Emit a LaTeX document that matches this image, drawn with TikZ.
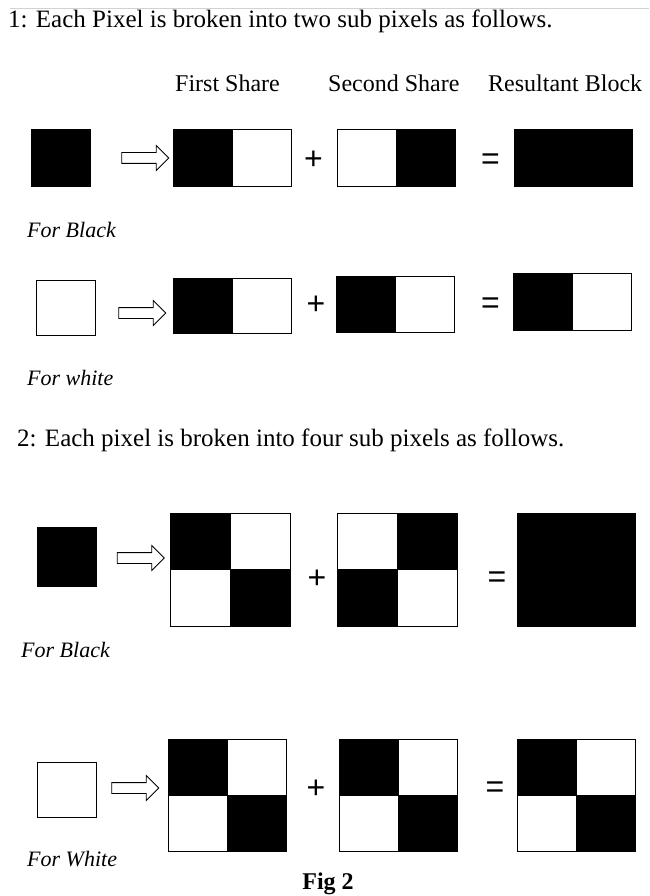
\documentclass[tikz,border=0pt]{standalone}
\usepackage{fontspec}
\setmainfont{Liberation Serif}
\newfontfamily\symfont{Liberation Sans}
\usetikzlibrary{shapes.arrows}

\begin{document}
\begin{tikzpicture}[x=1pt,y=-1pt,every node/.style={inner sep=0pt},
  bcell/.style={draw,line width=1pt,fill=black,minimum width=59pt,minimum height=57pt},
  wcell/.style={draw,line width=1pt,fill=white,minimum width=59pt,minimum height=57pt},
  maps/.style={single arrow,draw,line width=0.8pt,fill=white,inner sep=5pt,minimum height=47pt,single arrow head extend=7pt},
  op/.style={font=\symfont\fontsize{32}{34}\selectfont},
  txt/.style={anchor=base west,font=\fontsize{24}{28}\selectfont},
  lbl/.style={anchor=base west,font=\itshape\fontsize{22}{26}\selectfont}]
\useasboundingbox (0,0) rectangle (649,896);
\fill[white] (0,0) rectangle (649,896);
\draw[gray!35] (10,8) -- (649,8);
% headings
\node[txt,font=\fontsize{25}{28}\selectfont] (head1) at (8,28) {1: Each Pixel is broken into two sub pixels as follows.};
\node[txt] (hfirst) at (175,92) {First Share};
\node[txt] (hsecond) at (328,92) {Second Share};
\node[txt] (hresult) at (488,92) {Resultant Block};
% two sub pixels, black
\node[bcell] (src1) at (60.5,158.5) {};
\node[maps] (arr1) at (142.5,158) {};
\node[bcell] (a1l) at (202.5,158.5) {}; \node[wcell] (a1r) at (261.5,158.5) {};
\node[op] (plus1) at (313.5,160) {+};
\node[wcell] (b1l) at (366.5,158.5) {}; \node[bcell] (b1r) at (425.5,158.5) {};
\node[op] (eq1) at (490.5,162) {=};
\node[bcell,minimum width=118pt] (res1) at (573,158.5) {};
\node[lbl] (for1) at (27,237) {For Black};
% two sub pixels, white
\node[wcell,minimum height=55pt] (src2) at (65.5,307.5) {};
\node[maps] (arr2) at (139.5,313) {};
\node[bcell,minimum height=55pt] (a2l) at (202.5,305.5) {}; \node[wcell,minimum height=55pt] (a2r) at (261.5,305.5) {};
\node[op] (plus2) at (316,305) {+};
\node[bcell,minimum height=56pt] (b2l) at (365.5,304) {}; \node[wcell,minimum height=56pt] (b2r) at (424.5,304) {};
\node[op] (eq2) at (490.5,306) {=};
\node[bcell] (r2l) at (542.5,301.5) {}; \node[wcell] (r2r) at (601.5,301.5) {};
\node[lbl] (for2) at (27,385) {For white};
% four sub pixels
\node[txt,font=\fontsize{25}{28}\selectfont] (head2) at (17,446) {2: Each pixel is broken into four sub pixels as follows.};
% four sub pixels, black
\node[bcell,minimum height=59pt] (src3) at (66.5,556.5) {};
\node[maps] (arr3) at (138,558) {};
\node[wcell,minimum width=60pt,minimum height=56.5pt] (a3tr) at (260,541.25) {};
\node[wcell,minimum width=60pt,minimum height=56.5pt] (a3bl) at (200,597.75) {};
\node[bcell,minimum width=60pt,minimum height=56.5pt] (a3tl) at (200,541.25) {};
\node[bcell,minimum width=60pt,minimum height=56.5pt] (a3br) at (260,597.75) {};
\node[op] (plus3) at (317,579) {+};
\node[wcell,minimum width=60pt,minimum height=56.5pt] (b3tl) at (367,541.25) {};
\node[wcell,minimum width=60pt,minimum height=56.5pt] (b3br) at (427,597.75) {};
\node[bcell,minimum width=60pt,minimum height=56.5pt] (b3tr) at (427,541.25) {};
\node[bcell,minimum width=60pt,minimum height=56.5pt] (b3bl) at (367,597.75) {};
\node[op] (eq3) at (497,580) {=};
\node[bcell,minimum width=118pt,minimum height=113pt] (res3) at (576,569.5) {};
\node[lbl] (for3) at (21,657) {For Black};
% four sub pixels, white
\node[wcell,minimum height=55pt] (src4) at (66.5,789.5) {};
\node[maps] (arr4) at (132.5,788) {};
\node[wcell,minimum height=56pt] (a4tr) at (256.5,767) {}; \node[wcell,minimum height=56pt] (a4bl) at (197.5,823) {};
\node[bcell,minimum height=56pt] (a4tl) at (197.5,767) {}; \node[bcell,minimum height=56pt] (a4br) at (256.5,823) {};
\node[op] (plus4) at (316,789) {+};
\node[wcell,minimum height=56pt] (b4tr) at (427.5,767) {}; \node[wcell,minimum height=56pt] (b4bl) at (368.5,823) {};
\node[bcell,minimum height=56pt] (b4tl) at (368.5,767) {}; \node[bcell,minimum height=56pt] (b4br) at (427.5,823) {};
\node[op] (eq4) at (495,790) {=};
\node[wcell,minimum height=56pt] (r4tr) at (605.5,767) {}; \node[wcell,minimum height=56pt] (r4bl) at (546.5,823) {};
\node[bcell,minimum height=56pt] (r4tl) at (546.5,767) {}; \node[bcell,minimum height=56pt] (r4br) at (605.5,823) {};
\node[lbl] (for4) at (27,866) {For White};
\node[anchor=base,font=\bfseries\fontsize{24}{28}\selectfont] (cap) at (328,889) {Fig 2};
\end{tikzpicture}
\end{document}
